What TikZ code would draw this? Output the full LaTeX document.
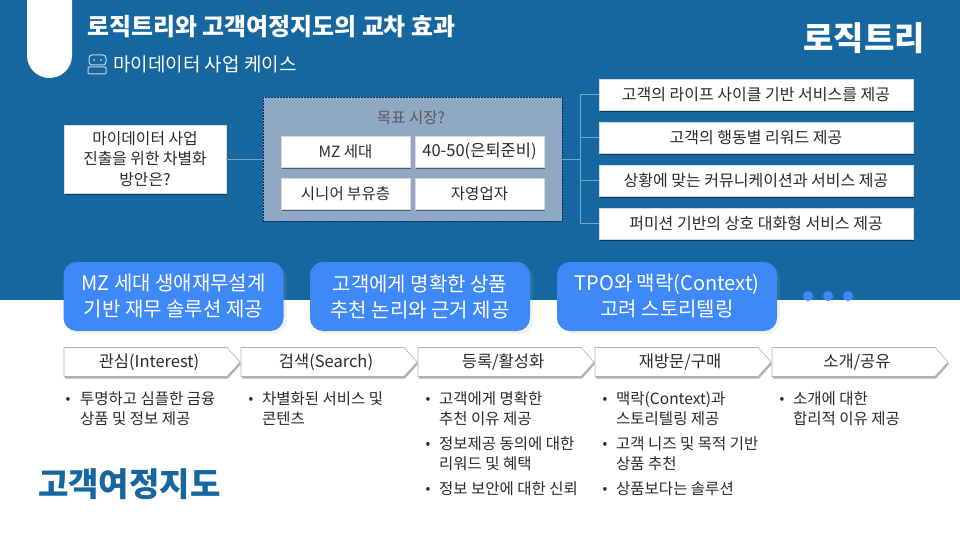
\documentclass[tikz,border=0pt]{standalone}
\usepackage{fontspec}
\setmainfont{Noto Sans CJK KR}
\usetikzlibrary{shapes.symbols,shadows}
\definecolor{bandblue}{HTML}{16669F}
\definecolor{keyblue}{HTML}{3F88F8}
\definecolor{groupfill}{HTML}{8FA9C4}
\definecolor{linkblue}{HTML}{6FA8C8}
\definecolor{textgray}{HTML}{2B2B2B}
\tikzset{
  whitebox/.style={rectangle, fill=white, draw=black!15, line width=0.4pt, inner sep=0pt, text=textgray, align=center,
    drop shadow={shadow xshift=1pt, shadow yshift=-2pt, fill=black, opacity=0.45}},
  keybox/.style={rectangle, rounded corners=13pt, fill=keyblue, minimum width=220pt, minimum height=69pt, inner sep=0pt, text=white, align=center,
    font=\fontsize{20}{26}\selectfont,
    drop shadow={shadow xshift=3pt, shadow yshift=-3pt, fill=black!30, opacity=0.15}},
  keydot/.style={circle, fill=keyblue, minimum size=10pt, inner sep=0pt,
    drop shadow={shadow xshift=2pt, shadow yshift=-3pt, fill=black!30, opacity=0.12}},
  stagebox/.style={signal, signal to=east, signal pointer angle=96, fill=white, draw=black!30, line width=0.6pt, minimum width=176pt, minimum height=29pt, inner sep=0pt, text=textgray,
    font=\fontsize{16.5}{18}\selectfont,
    drop shadow={shadow xshift=1pt, shadow yshift=-2pt, fill=black, opacity=0.3}},
  itemtext/.style={anchor=north west, inner sep=0pt, align=left, text=textgray, font=\fontsize{15.5}{20}\selectfont},
  itemmark/.style={inner sep=0pt, text=textgray, font=\fontsize{14}{16}\selectfont},
  linkline/.style={draw=linkblue, line width=0.8pt},
}
\begin{document}
\begin{tikzpicture}[x=1pt, y=-1pt]
        \useasboundingbox (0,0) rectangle (960,540);
        \fill[white] (0,0) rectangle (960,540);
        \fill[bandblue] (0,0) rectangle (960,299.5);
        
        % title
        \fill[white] (27,0) -- (27,55.5) arc (180:0:22.5) -- (72,0) -- cycle;
        \node[anchor=west, inner sep=0pt, text=white, font=\fontsize{23.9}{26}\selectfont\bfseries] (title) at (87,27) {로직트리와 고객여정지도의 교차 효과};
        \node[anchor=west, inner sep=0pt, text=white, font=\fontsize{19}{20}\selectfont] (subtitle) at (113,64) {마이데이터 사업 케이스};
        \node[anchor=east, inner sep=0pt, text=white, font=\fontsize{33}{36}\selectfont\bfseries] (logic) at (925,38) {로직트리};
        \node[anchor=west, inner sep=0pt, text=bandblue, font=\fontsize{33}{36}\selectfont\bfseries] (journey) at (38,484.5) {고객여정지도};
        
        % robot icon
        \draw[white!75!bandblue, line width=1pt, rounded corners=3pt] (89,55) rectangle (106,65);
        \draw[white!75!bandblue, line width=1pt, rounded corners=1pt] (88,67) rectangle (106,74);
        \fill[white!75!bandblue] (94,60) circle (1) (101,60) circle (1);
        
        % tree
        \node[whitebox, minimum width=162pt, minimum height=68pt, font=\fontsize{15.8}{20.5}\selectfont] (need) at (145,159) {마이데이터 사업\\진출을 위한 차별화\\방안은?};
        \node[rectangle, fill=groupfill, draw=black!55!bandblue, densely dotted, line width=0.5pt, minimum width=299pt, minimum height=124pt, inner sep=0pt] (group) at (412.5,159) {};
        \node[inner sep=0pt, text=black!65, font=\fontsize{15.5}{18}\selectfont] (grouptitle) at (411,118) {목표 시장?};
        
        \node[whitebox, minimum width=129pt, minimum height=31pt, font=\fontsize{15.5}{18}\selectfont] (g1) at (345.5,151.5) {MZ 세대};
        \node[whitebox, minimum width=129pt, minimum height=31pt, font=\fontsize{16.5}{18}\selectfont] (g2) at (479.5,151.5) {40-50(은퇴준비)};
        \node[whitebox, minimum width=129pt, minimum height=31pt, font=\fontsize{15.5}{18}\selectfont] (g3) at (345.5,193.5) {시니어 부유층};
        \node[whitebox, minimum width=129pt, minimum height=31pt, font=\fontsize{15.5}{18}\selectfont] (g4) at (479.5,193.5) {자영업자};
        
        \node[whitebox, minimum width=314pt, minimum height=31pt, font=\fontsize{16}{18}\selectfont] (r1) at (756,94.5) {고객의 라이프 사이클 기반 서비스를 제공};
        \node[whitebox, minimum width=314pt, minimum height=31pt, font=\fontsize{16}{18}\selectfont] (r2) at (756,137.5) {고객의 행동별 리워드 제공};
        \node[whitebox, minimum width=314pt, minimum height=31pt, font=\fontsize{16}{18}\selectfont] (r3) at (756,180.5) {상황에 맞는 커뮤니케이션과 서비스 제공};
        \node[whitebox, minimum width=314pt, minimum height=31pt, font=\fontsize{16}{18}\selectfont] (r4) at (756,223.5) {퍼미션 기반의 상호 대화형 서비스 제공};
        
        \coordinate (trunk) at (580,159);
        
        \draw[linkline] (need) -- (group);
        \draw[linkline] (group) -- (trunk);
        \draw[linkline] (trunk) |- (r1);
        \draw[linkline] (trunk) |- (r2);
        \draw[linkline] (trunk) |- (r3);
        \draw[linkline] (trunk) |- (r4);
        
        % key effects
        \node[keybox] (k1) at (173.5,296.5) {MZ 세대 생애재무설계\\기반 재무 솔루션 제공};
        \node[keybox] (k2) at (420,296.5) {고객에게 명확한 상품\\추천 논리와 근거 제공};
        \node[keybox] (k3) at (667,296.5) {TPO와 맥락(Context)\\고려 스토리텔링};
        \node[keydot] (d1) at (808,296) {};
        \node[keydot] (d2) at (828,296) {};
        \node[keydot] (d3) at (848,296) {};
        
        % journey stages
        \node[stagebox] (s1) at (145.5,362) {\hspace*{7pt}관심(Interest)};
        \node[stagebox] (s2) at (322.5,362) {\hspace*{7pt}검색(Search)};
        \node[stagebox] (s3) at (499.5,362) {\hspace*{7pt}등록/활성화};
        \node[stagebox] (s4) at (676.5,362) {\hspace*{7pt}재방문/구매};
        \node[stagebox] (s5) at (853.5,362) {\hspace*{7pt}소개/공유};
        
        % items
        \node[itemmark] (m1) at (68,400) {•};
        \node[itemtext] (i1) at (80,391.5) {투명하고 심플한 금융\\상품 및 정보 제공};
        \node[itemmark] (m2) at (251,400) {•};
        \node[itemtext] (i2) at (262,391.5) {차별화된 서비스 및\\콘텐츠};
        \node[itemmark] (m3) at (428,400) {•};
        \node[itemtext] (i3) at (439,391.5) {고객에게 명확한\\추천 이유 제공};
        \node[itemmark] (m4) at (428,445) {•};
        \node[itemtext] (i4) at (439,436.5) {정보제공 동의에 대한\\리워드 및 혜택};
        \node[itemmark] (m5) at (428,490) {•};
        \node[itemtext] (i5) at (439,481) {정보 보안에 대한 신뢰};
        \node[itemmark] (m6) at (605,400) {•};
        \node[itemtext] (i6) at (616,391.5) {맥락(Context)과\\스토리텔링 제공};
        \node[itemmark] (m7) at (605,445) {•};
        \node[itemtext] (i7) at (616,436.5) {고객 니즈 및 목적 기반\\상품 추천};
        \node[itemmark] (m8) at (605,490) {•};
        \node[itemtext] (i8) at (616,481) {상품보다는 솔루션};
        \node[itemmark] (m9) at (782,400) {•};
        \node[itemtext] (i9) at (793,391.5) {소개에 대한\\합리적 이유 제공};
        
    \end{tikzpicture}
\end{document}
